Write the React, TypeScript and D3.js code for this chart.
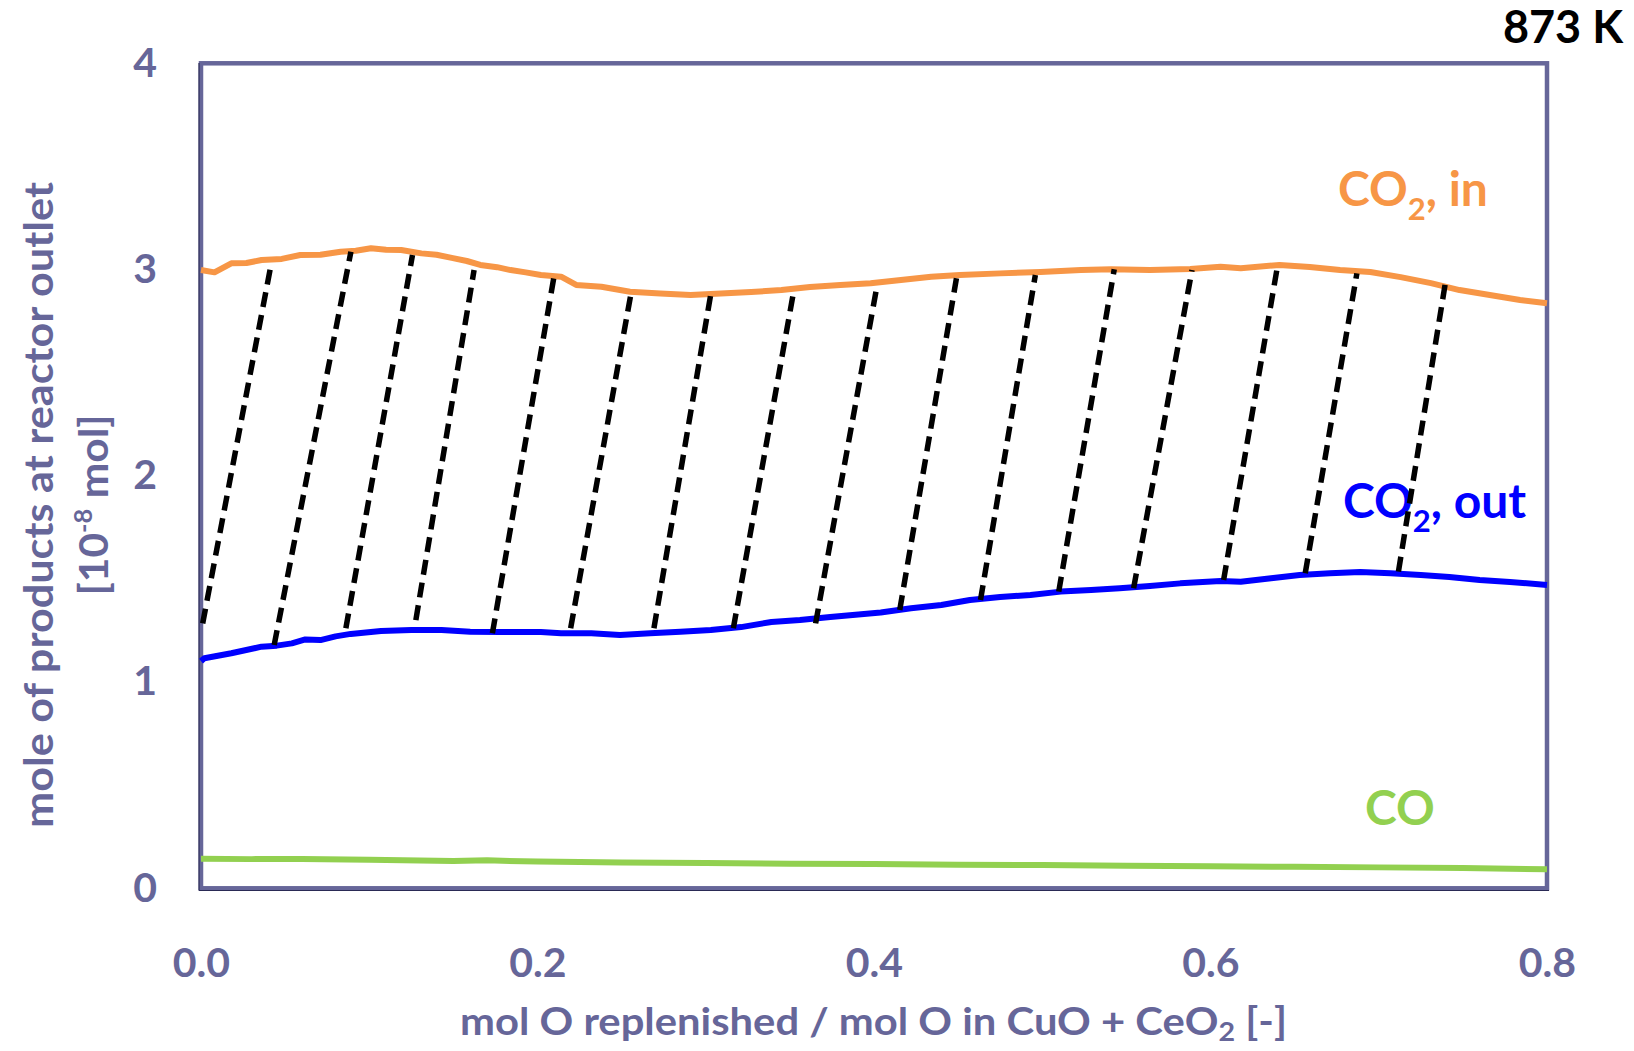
import { useEffect, useRef } from 'react';
import * as d3 from 'd3';

// values: [x, y]
const co2In = [
  [0, 2.996], [0.008, 2.985], [0.018, 3.029], [0.027, 3.03], [0.036, 3.045], [0.048, 3.05],
  [0.059, 3.069], [0.071, 3.07], [0.083, 3.085], [0.092, 3.09], [0.101, 3.102], [0.11, 3.095],
  [0.119, 3.093], [0.131, 3.077], [0.14, 3.07], [0.149, 3.055], [0.158, 3.04], [0.166, 3.021],
  [0.176, 3.01], [0.184, 2.996], [0.193, 2.985], [0.202, 2.972], [0.214, 2.964], [0.223, 2.924],
  [0.238, 2.915], [0.255, 2.891], [0.273, 2.883], [0.291, 2.875], [0.309, 2.883], [0.327, 2.89],
  [0.345, 2.899], [0.362, 2.914], [0.38, 2.924], [0.398, 2.932], [0.416, 2.948], [0.434, 2.964],
  [0.451, 2.972], [0.475, 2.98], [0.499, 2.987], [0.523, 2.996], [0.541, 3.0], [0.564, 2.996],
  [0.588, 3.001], [0.606, 3.012], [0.618, 3.005], [0.641, 3.021], [0.659, 3.011], [0.677, 2.996],
  [0.695, 2.987], [0.713, 2.962], [0.731, 2.933], [0.748, 2.899], [0.766, 2.875], [0.784, 2.851],
  [0.8, 2.835],
];

const co2Out = [
  [0, 1.1], [0.002, 1.114], [0.018, 1.138], [0.036, 1.17], [0.045, 1.175], [0.054, 1.186],
  [0.062, 1.205], [0.071, 1.202], [0.08, 1.22], [0.089, 1.232], [0.107, 1.246], [0.125, 1.251],
  [0.143, 1.251], [0.16, 1.243], [0.178, 1.241], [0.202, 1.241], [0.214, 1.235], [0.232, 1.235],
  [0.249, 1.227], [0.267, 1.235], [0.285, 1.243], [0.303, 1.251], [0.321, 1.265], [0.339, 1.29],
  [0.356, 1.299], [0.374, 1.314], [0.404, 1.336], [0.422, 1.356], [0.44, 1.372], [0.457, 1.396],
  [0.475, 1.411], [0.493, 1.421], [0.511, 1.437], [0.529, 1.445], [0.546, 1.453], [0.564, 1.464],
  [0.582, 1.477], [0.606, 1.488], [0.618, 1.485], [0.636, 1.502], [0.653, 1.518], [0.671, 1.526],
  [0.689, 1.532], [0.707, 1.526], [0.725, 1.518], [0.742, 1.508], [0.76, 1.493], [0.778, 1.484],
  [0.8, 1.469],
];

const co = [
  [0, 0.142], [0.03, 0.14], [0.06, 0.141], [0.1, 0.137], [0.15, 0.131], [0.17, 0.134],
  [0.2, 0.128], [0.25, 0.124], [0.3, 0.121], [0.35, 0.118], [0.4, 0.116], [0.45, 0.113],
  [0.5, 0.111], [0.55, 0.108], [0.6, 0.105], [0.65, 0.103], [0.7, 0.1], [0.75, 0.097],
  [0.8, 0.091],
];

// dashed connectors: [x bottom, y bottom, x top, y top]
const connectors = [
  [0.001, 1.283, 0.0416, 3.021], [0.0435, 1.178, 0.0891, 3.085], [0.0861, 1.259, 0.1257, 3.069],
  [0.1277, 1.299, 0.1623, 2.996], [0.1732, 1.235, 0.2098, 2.964], [0.2197, 1.259, 0.2554, 2.875],
  [0.2692, 1.259, 0.3029, 2.875], [0.3164, 1.259, 0.3524, 2.899], [0.3653, 1.283, 0.4019, 2.924],
  [0.4153, 1.348, 0.449, 2.956], [0.4633, 1.396, 0.4959, 2.972], [0.5098, 1.437, 0.5428, 3.0],
  [0.5543, 1.453, 0.589, 2.996], [0.6078, 1.493, 0.6395, 3.0], [0.6563, 1.526, 0.687, 2.98],
  [0.7117, 1.534, 0.7394, 2.924],
];

const xTicks = [0, 0.2, 0.4, 0.6, 0.8];
const yTicks = [0, 1, 2, 3, 4];

const AXIS = '#666699';
const FONT = 'Lato, "Open Sans", sans-serif';

export default function App() {
  const svgRef = useRef(null);

  useEffect(() => {
    const svg = d3.select(svgRef.current);

    const xScale = d3.scaleLinear().domain([0, 0.8]).range([201, 1547]);
    const yScale = d3.scaleLinear().domain([0, 4]).range([888, 63]);

    // axes (labels only, frame drawn below)
    const xAxis = d3.axisBottom(xScale).tickValues(xTicks).tickSize(0).tickPadding(60).tickFormat(d3.format('.1f'));
    const yAxis = d3.axisLeft(yScale).tickValues(yTicks).tickSize(0).tickPadding(44).tickFormat(d3.format('d'));

    svg.select('.x-axis').attr('transform', 'translate(0,888)').call(xAxis);
    svg.select('.y-axis').attr('transform', 'translate(201,0)').call(yAxis);
    svg.selectAll('.domain').remove();
    svg
      .selectAll('.x-axis text, .y-axis text')
      .attr('fill', AXIS)
      .style('font-family', FONT)
      .style('font-weight', 700)
      .style('font-size', '41px');

    // series
    const myLine = d3
      .line()
      .x((d) => xScale(d[0]))
      .y((d) => yScale(d[1]));

    const series = [
      { data: co2In, color: '#F79646' },
      { data: co2Out, color: '#0000FF' },
      { data: co, color: '#92D050' },
    ];

    svg
      .select('.lines')
      .selectAll('path')
      .data(series)
      .join('path')
      .attr('d', (s) => myLine(s.data))
      .attr('fill', 'none')
      .attr('stroke', (s) => s.color)
      .attr('stroke-width', 6)
      .attr('stroke-linejoin', 'round');

    svg
      .select('.dashes')
      .selectAll('line')
      .data(connectors)
      .join('line')
      .attr('x1', (d) => xScale(d[0]))
      .attr('y1', (d) => yScale(d[1]))
      .attr('x2', (d) => xScale(d[2]))
      .attr('y2', (d) => yScale(d[3]))
      .attr('stroke', '#000')
      .attr('stroke-width', 5.5)
      .attr('stroke-dasharray', '15 8');
  }, []);

  return (
    <svg
      ref={svgRef}
      width={1634}
      height={1051}
      style={{ position: 'absolute', left: 0, top: 0, background: '#fff' }}
    >
      <rect x={0} y={0} width={1634} height={1051} fill="#fff" />
      {/* frame */}
      <rect x={201} y={63.3} width={1346} height={825} fill="none" stroke={AXIS} strokeWidth={4.5} />
      <line x1={199} y1={63} x2={199} y2={890.5} stroke="#2a2a55" strokeWidth={1.2} />
      <line x1={199} y1={890.5} x2={1549} y2={890.5} stroke="#2a2a55" strokeWidth={1.2} />

      <g className="lines" />

      <g fontFamily={FONT} fontWeight={700}>
        <text x={1338} y={206} fontSize={48} fill="#F79646">
          CO<tspan dy={14} fontSize={31}>2</tspan>
          <tspan dy={-14}>, in</tspan>
        </text>
        <text x={1343} y={518} fontSize={48} fill="#0000FF">
          CO<tspan dy={14} fontSize={31}>2</tspan>
          <tspan dy={-14}>, out</tspan>
        </text>
        <text x={1365} y={825} fontSize={48} fill="#92D050">
          CO
        </text>
        <text x={1623} y={43} fontSize={45} fill="#000" textAnchor="end">
          873 K
        </text>

        <text x={460} y={1035} fontSize={38} fill={AXIS} textLength={827} lengthAdjust="spacingAndGlyphs">
          mol O replenished / mol O in CuO + CeO<tspan dy={6} fontSize={26}>2</tspan>
          <tspan dy={-6}> [-]</tspan>
        </text>

        <text
          transform="translate(53,505) rotate(-90)"
          textAnchor="middle"
          fontSize={40}
          fill={AXIS}
          textLength={646}
          lengthAdjust="spacingAndGlyphs"
        >
          mole of products at reactor outlet
        </text>
        <text
          transform="translate(108,505) rotate(-90)"
          textAnchor="middle"
          fontSize={40}
          fill={AXIS}
          textLength={181}
          lengthAdjust="spacingAndGlyphs"
        >
          [10<tspan dy={-16} fontSize={24}>-8</tspan>
          <tspan dy={16}> mol]</tspan>
        </text>
      </g>

      <g className="dashes" />
      <g className="x-axis" />
      <g className="y-axis" />
    </svg>
  );
}
